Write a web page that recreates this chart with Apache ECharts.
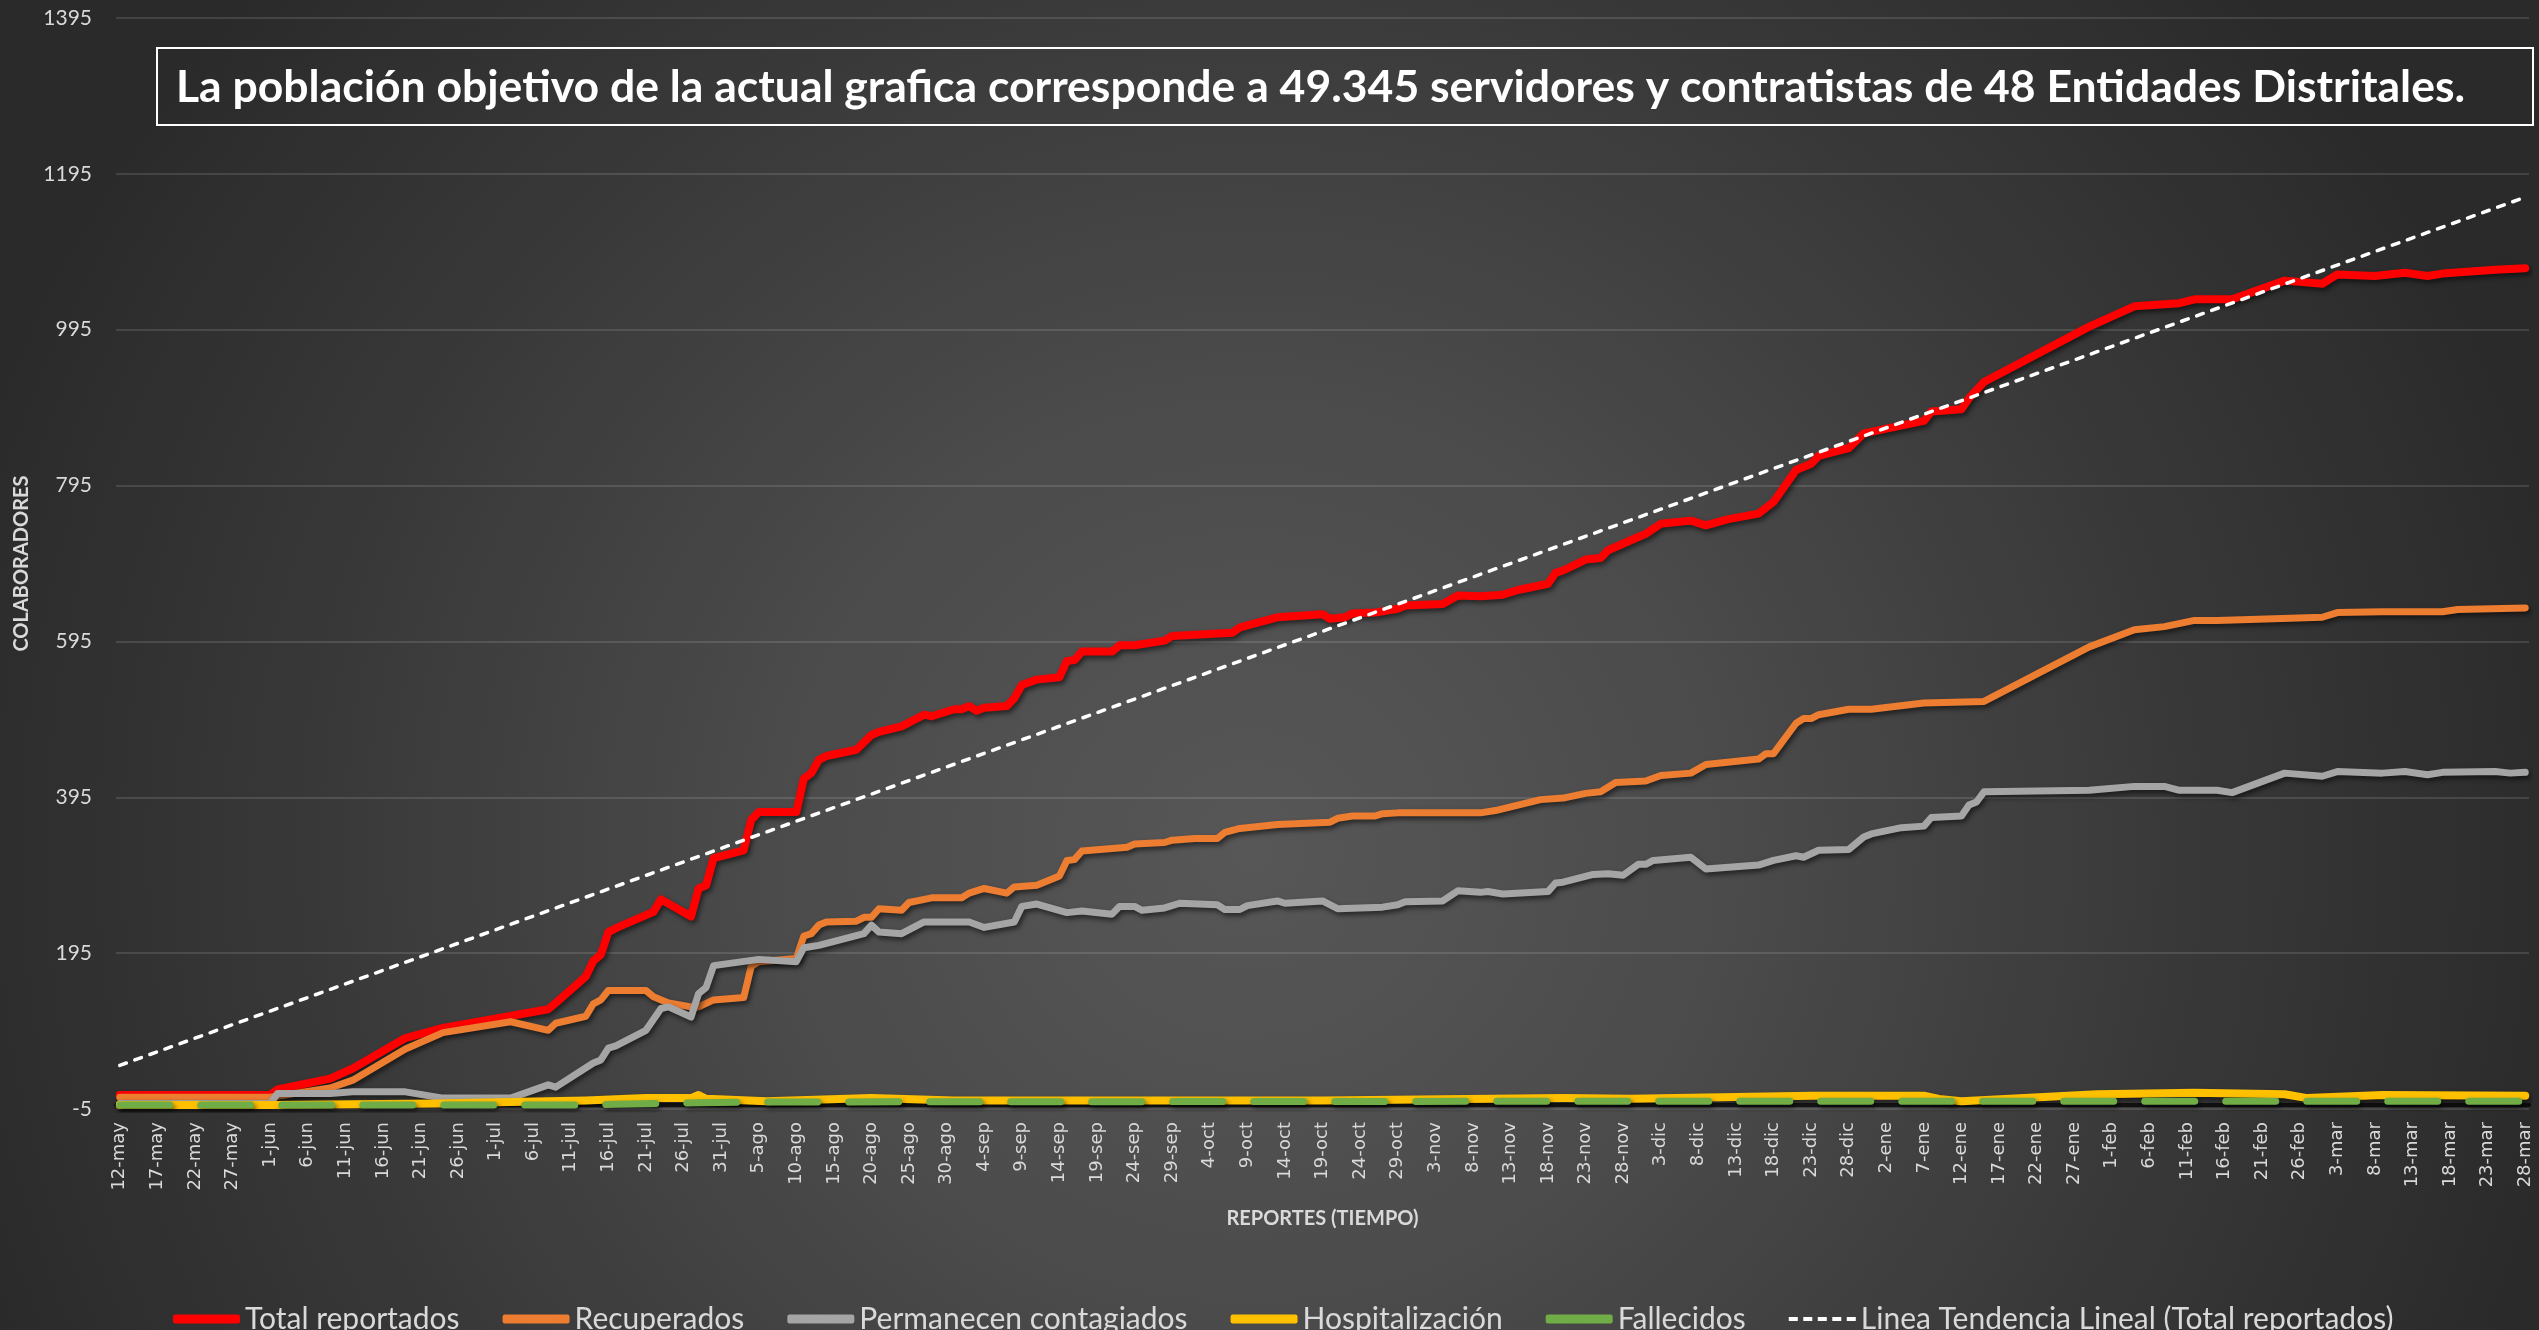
<!DOCTYPE html>
<html>
<head>
<meta charset="utf-8">
<title>Colaboradores</title>
<script src="https://cdn.jsdelivr.net/npm/echarts@6/dist/echarts.min.js"></script>
<style>
  html, body { margin: 0; padding: 0; }
  #chart {
    width: 2539px;
    height: 1330px;
    background: radial-gradient(ellipse 1350px 1300px at 1250px 850px, #575757 0%, #4b4b4b 35%, #383838 70%, #2a2a2a 100%);
  }
</style>
</head>
<body>
<div id="chart"></div>
<script>
// etiquetas del eje x: un reporte por dia, desde el 12-may
const MESES = ['ene', 'feb', 'mar', 'abr', 'may', 'jun', 'jul', 'ago', 'sep', 'oct', 'nov', 'dic']
const NUM_DIAS = 321
const fechas = []
for (let i = 0; i < NUM_DIAS; i++) {
  const d = new Date(2020, 4, 12 + i)
  fechas.push(d.getDate() + '-' + MESES[d.getMonth()])
}

const titulo = 'La población objetivo de la actual grafica corresponde a 49.345 servidores y contratistas de 48 Entidades Distritales.'

const nombres = ['Total reportados', 'Recuperados', 'Permanecen contagiados', 'Hospitalización', 'Fallecidos', 'Linea Tendencia Lineal (Total reportados)']

const totalReportados = [
  ['12-may', 13], ['1-jun', 13], ['2-jun', 20], ['9-jun', 34], ['12-jun', 47], ['19-jun', 86], ['24-jun', 99],
  ['8-jul', 123], ['9-jul', 131], ['13-jul', 165], ['14-jul', 185], ['15-jul', 193], ['16-jul', 222], ['17-jul', 227],
  ['22-jul', 248], ['23-jul', 264], ['27-jul', 242], ['28-jul', 278], ['29-jul', 282], ['30-jul', 317],
  ['3-ago', 327], ['4-ago', 366], ['5-ago', 376], ['10-ago', 376], ['11-ago', 419], ['12-ago', 426], ['13-ago', 443],
  ['14-ago', 448], ['18-ago', 456], ['20-ago', 475], ['21-ago', 479], ['24-ago', 486], ['27-ago', 501], ['28-ago', 499],
  ['31-ago', 508], ['1-sep', 508], ['2-sep', 512], ['3-sep', 506], ['4-sep', 510], ['7-sep', 512], ['8-sep', 522],
  ['9-sep', 539], ['11-sep', 546], ['14-sep', 549], ['15-sep', 570], ['16-sep', 571], ['17-sep', 582], ['21-sep', 582],
  ['22-sep', 590], ['24-sep', 590], ['28-sep', 596], ['29-sep', 602], ['7-oct', 606], ['8-oct', 613], ['13-oct', 626],
  ['19-oct', 630], ['20-oct', 624], ['22-oct', 626], ['23-oct', 631], ['26-oct', 632], ['29-oct', 637], ['30-oct', 641],
  ['4-nov', 643], ['6-nov', 654], ['9-nov', 653], ['12-nov', 655], ['14-nov', 661], ['18-nov', 669], ['19-nov', 683],
  ['20-nov', 686], ['23-nov', 700], ['25-nov', 702], ['26-nov', 712], ['30-nov', 729], ['1-dic', 733], ['3-dic', 746],
  ['7-dic', 750], ['9-dic', 744], ['12-dic', 752], ['16-dic', 759], ['18-dic', 774], ['21-dic', 815], ['23-dic', 823],
  ['24-dic', 833], ['28-dic', 843], ['30-dic', 862], ['7-ene', 878], ['8-ene', 890], ['12-ene', 893], ['13-ene', 907],
  ['15-ene', 928], ['29-ene', 999], ['4-feb', 1025], ['10-feb', 1029], ['12-feb', 1034], ['17-feb', 1034],
  ['24-feb', 1058], ['1-mar', 1054], ['3-mar', 1066], ['8-mar', 1064], ['12-mar', 1068], ['15-mar', 1064],
  ['17-mar', 1067], ['24-mar', 1072], ['28-mar', 1074]
]

const recuperados = [
  ['12-may', 10], ['1-jun', 10], ['9-jun', 22], ['12-jun', 32], ['19-jun', 72], ['24-jun', 93], ['3-jul', 107],
  ['8-jul', 96], ['9-jul', 105], ['13-jul', 114], ['14-jul', 130], ['15-jul', 135], ['16-jul', 147], ['21-jul', 147],
  ['22-jul', 139], ['24-jul', 131], ['27-jul', 126], ['28-jul', 126], ['30-jul', 135], ['3-ago', 138], ['4-ago', 178],
  ['5-ago', 184], ['10-ago', 188], ['11-ago', 217], ['12-ago', 220], ['13-ago', 231], ['14-ago', 235], ['18-ago', 236],
  ['19-ago', 241], ['20-ago', 241], ['21-ago', 252], ['24-ago', 250], ['25-ago', 260], ['28-ago', 266], ['1-sep', 266],
  ['2-sep', 272], ['4-sep', 278], ['7-sep', 272], ['8-sep', 280], ['11-sep', 282], ['14-sep', 294], ['15-sep', 314],
  ['16-sep', 315], ['17-sep', 326], ['23-sep', 331], ['24-sep', 335], ['28-sep', 337], ['29-sep', 340], ['2-oct', 342],
  ['5-oct', 342], ['6-oct', 350], ['8-oct', 355], ['13-oct', 360], ['20-oct', 363], ['21-oct', 368], ['23-oct', 371],
  ['26-oct', 371], ['27-oct', 374], ['29-oct', 375], ['9-nov', 375], ['11-nov', 378], ['14-nov', 385], ['17-nov', 392],
  ['20-nov', 394], ['23-nov', 400], ['25-nov', 402], ['27-nov', 414], ['1-dic', 416], ['3-dic', 423], ['7-dic', 426],
  ['9-dic', 437], ['16-dic', 444], ['17-dic', 451], ['18-dic', 451], ['21-dic', 490], ['22-dic', 496], ['23-dic', 496],
  ['24-dic', 501], ['28-dic', 508], ['31-dic', 508], ['7-ene', 516], ['15-ene', 518], ['29-ene', 588], ['4-feb', 610],
  ['8-feb', 614], ['12-feb', 622], ['15-feb', 622], ['1-mar', 626], ['3-mar', 632], ['9-mar', 633], ['17-mar', 633],
  ['19-mar', 636], ['28-mar', 638]
]

const permanecen = [
  ['12-may', 2], ['1-jun', 2], ['2-jun', 15], ['9-jun', 15], ['12-jun', 17], ['19-jun', 17], ['24-jun', 9], ['3-jul', 9],
  ['8-jul', 26], ['9-jul', 23], ['14-jul', 54], ['15-jul', 58], ['16-jul', 73], ['17-jul', 76], ['21-jul', 96],
  ['23-jul', 124], ['24-jul', 126], ['27-jul', 113], ['28-jul', 143], ['29-jul', 151], ['30-jul', 179], ['5-ago', 187],
  ['10-ago', 184], ['11-ago', 202], ['13-ago', 205], ['19-ago', 220], ['20-ago', 231], ['21-ago', 222], ['24-ago', 220],
  ['27-ago', 235], ['2-sep', 235], ['4-sep', 228], ['8-sep', 235], ['9-sep', 255], ['11-sep', 258], ['15-sep', 247],
  ['17-sep', 249], ['21-sep', 245], ['22-sep', 255], ['24-sep', 255], ['25-sep', 250], ['28-sep', 253], ['30-sep', 259],
  ['5-oct', 257], ['6-oct', 251], ['8-oct', 251], ['9-oct', 256], ['13-oct', 262], ['14-oct', 259], ['19-oct', 262],
  ['21-oct', 252], ['27-oct', 254], ['29-oct', 257], ['30-oct', 261], ['4-nov', 262], ['6-nov', 275], ['9-nov', 273],
  ['10-nov', 274], ['12-nov', 271], ['18-nov', 274], ['19-nov', 285], ['20-nov', 286], ['24-nov', 296], ['26-nov', 297],
  ['28-nov', 295], ['30-nov', 309], ['1-dic', 309], ['2-dic', 314], ['7-dic', 318], ['9-dic', 303], ['16-dic', 308],
  ['18-dic', 314], ['21-dic', 320], ['22-dic', 318], ['24-dic', 327], ['28-dic', 328], ['30-dic', 344], ['31-dic', 348],
  ['4-ene', 356], ['7-ene', 358], ['8-ene', 369], ['12-ene', 371], ['13-ene', 385], ['14-ene', 389], ['15-ene', 402],
  ['29-ene', 404], ['4-feb', 409], ['8-feb', 409], ['10-feb', 404], ['15-feb', 404], ['17-feb', 401], ['24-feb', 426],
  ['1-mar', 422], ['3-mar', 428], ['9-mar', 426], ['12-mar', 428], ['15-mar', 424], ['17-mar', 427], ['24-mar', 428],
  ['26-mar', 426], ['28-mar', 427]
]

const hospitalizacion = [
  ['12-may', 0], ['1-jun', 0], ['23-jun', 2], ['13-jul', 6], ['21-jul', 9], ['27-jul', 9], ['28-jul', 13], ['29-jul', 8],
  ['6-ago', 5], ['20-ago', 9], ['31-ago', 6], ['19-oct', 6], ['20-nov', 9], ['29-nov', 8], ['23-dic', 12], ['7-ene', 12],
  ['9-ene', 8], ['12-ene', 5], ['30-ene', 14], ['12-feb', 16], ['24-feb', 14], ['27-feb', 9], ['9-mar', 13], ['28-mar', 12]
]

const fallecidos = [
  ['12-may', 0], ['10-jul', 0], ['17-jul', 1], ['28-jul', 3], ['6-ago', 4], ['30-nov', 5], ['28-mar', 5]
]

// recta de tendencia lineal de total reportados (extremos)
const tendencia = [['12-may', 51], ['28-mar', 1165]]

const chart = echarts.init(document.getElementById('chart'))

const sombra = {
  shadowColor: 'rgba(0,0,0,0.55)',
  shadowBlur: 5,
  shadowOffsetX: 2,
  shadowOffsetY: 3
}

const serieLinea = (name, data, color, width, extra) => ({
  name,
  type: 'line',
  data,
  color,
  symbol: 'none',
  lineStyle: Object.assign({ color, width, cap: 'round', join: 'round' }, sombra, extra || {})
})

const option = {
  animation: false,
  backgroundColor: 'transparent',
  grid: { left: 116, right: 10, top: 18, bottom: 221 },
  graphic: [
    {
      type: 'rect',
      shape: { x: 157, y: 48, width: 2376, height: 77 },
      style: { fill: 'none', stroke: '#ffffff', lineWidth: 2 }
    },
    {
      type: 'text',
      x: 176,
      y: 88,
      style: {
        text: titulo,
        fill: '#ffffff',
        fontFamily: 'Lato',
        fontWeight: 'bold',
        fontSize: 44.5,
        verticalAlign: 'middle'
      }
    }
  ],
  legend: {
    left: 168,
    top: 1299,
    itemWidth: 67,
    itemHeight: 9,
    itemGap: 43,
    itemStyle: { borderWidth: 0 },
    textStyle: { color: '#d9d9d9', fontFamily: 'Lato', fontSize: 30 },
    data: [
      { name: nombres[0], icon: 'roundRect' },
      { name: nombres[1], icon: 'roundRect' },
      { name: nombres[2], icon: 'roundRect' },
      { name: nombres[3], icon: 'roundRect' },
      { name: nombres[4], icon: 'roundRect' },
      { name: nombres[5], icon: 'path://M0,0M0,9M0,2.5h9v4h-9zM14.5,2.5h9v4h-9zM29,2.5h9v4h-9zM43.5,2.5h9v4h-9zM58,2.5h9v4h-9z' }
    ]
  },
  xAxis: {
    type: 'category',
    data: fechas,
    boundaryGap: true,
    name: 'REPORTES (TIEMPO)',
    nameLocation: 'middle',
    nameGap: 100,
    nameTextStyle: { color: '#d9d9d9', fontFamily: 'Lato', fontWeight: 'bold', fontSize: 20 },
    axisLine: { lineStyle: { color: 'rgba(0,0,0,0.7)', width: 4 } },
    axisTick: { show: false },
    axisLabel: {
      interval: 4,
      rotate: 90,
      margin: 13,
      color: '#d9d9d9',
      fontFamily: 'DejaVu Sans',
      fontSize: 18
    },
    splitLine: { show: false }
  },
  yAxis: {
    type: 'value',
    min: -5,
    max: 1395,
    interval: 200,
    name: 'COLABORADORES',
    nameLocation: 'middle',
    nameRotate: 90,
    nameGap: 84,
    nameTextStyle: { color: '#d9d9d9', fontFamily: 'Lato', fontWeight: 'bold', fontSize: 20 },
    axisLine: { show: false },
    axisTick: { show: false },
    axisLabel: {
      margin: 24,
      color: '#d9d9d9',
      fontFamily: 'Lato',
      fontSize: 21,
      formatter: (v) => String(v)
    },
    splitLine: { lineStyle: { color: 'rgba(255,255,255,0.12)', width: 2 } }
  },
  series: [
    serieLinea(nombres[0], totalReportados, '#ff0000', 8),
    serieLinea(nombres[1], recuperados, '#ed7d31', 7),
    serieLinea(nombres[2], permanecen, '#a5a5a5', 7),
    serieLinea(nombres[3], hospitalizacion, '#ffc000', 8),
    serieLinea(nombres[4], fallecidos, '#70ad47', 7, { type: [50, 31] }),
    serieLinea(nombres[5], tendencia, '#ffffff', 3.5, { type: [7, 9], shadowBlur: 0, shadowOffsetX: 0, shadowOffsetY: 0 })
  ]
}

chart.setOption(option)
</script>
</body>
</html>
